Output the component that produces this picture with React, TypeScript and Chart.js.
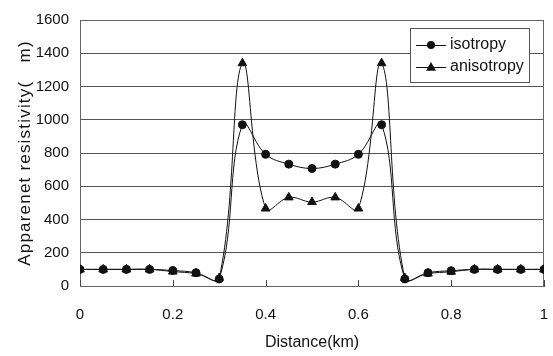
import React, { useEffect, useRef } from "react";
import { Chart, registerables } from "chart.js";

Chart.register(...registerables);

// Profile positions along the survey line (km)
const distances = [0, 0.05, 0.1, 0.15, 0.2, 0.25, 0.3, 0.35, 0.4, 0.45, 0.5, 0.55, 0.6, 0.65, 0.7, 0.75, 0.8, 0.85, 0.9, 0.95, 1];
// Apparent resistivity for the isotropic model
const isotropy = [100, 100, 100, 100, 93, 80, 42, 970, 792, 733, 707, 733, 792, 970, 42, 80, 92, 100, 100, 100, 100];
// Apparent resistivity for the anisotropic model
const anisotropy = [100, 100, 100, 100, 87, 75, 48, 1340, 466, 533, 505, 533, 466, 1340, 48, 75, 86, 100, 100, 100, 100];

const seriesNames = ["isotropy", "anisotropy"];
const yTitle = "Apparenet resistivity(\u3000m)";
const xTitle = "Distance(km)";

const FONT = '"Liberation Sans", Arial, sans-serif';

const frameAndTicks = {
  id: "frameAndTicks",
  beforeDatasetsDraw(chart: any) {
    const { ctx, chartArea, scales } = chart;
    ctx.save();
    ctx.strokeStyle = "#666";
    ctx.lineWidth = 1;
    ctx.strokeRect(chartArea.left + 0.5, chartArea.top + 0.5, chartArea.right - chartArea.left - 1, chartArea.bottom - chartArea.top);
    // short inward tick marks on the distance axis
    ctx.strokeStyle = "#444";
    ctx.beginPath();
    for (const t of scales.x.ticks) {
      const px = Math.round(scales.x.getPixelForValue(t.value)) + 0.5;
      ctx.moveTo(px, chartArea.bottom);
      ctx.lineTo(px, chartArea.bottom - 6);
    }
    ctx.stroke();
    ctx.restore();
  },
};

// vertical axis title, drawn with a little extra letter spacing
const yAxisTitle = {
  id: "yAxisTitle",
  afterDraw(chart: any) {
    const { ctx, chartArea } = chart;
    ctx.save();
    ctx.translate(25, (chartArea.top + chartArea.bottom) / 2);
    ctx.rotate(-Math.PI / 2);
    ctx.font = `17px ${FONT}`;
    (ctx as any).letterSpacing = "1.2px";
    ctx.fillStyle = "#111";
    ctx.textAlign = "center";
    ctx.textBaseline = "middle";
    ctx.fillText(yTitle, 0, 0);
    ctx.restore();
  },
};

const boxedLegend = {
  id: "boxedLegend",
  afterDraw(chart: any) {
    const { ctx, chartArea } = chart;
    const w = 119;
    const h = 54;
    const x0 = Math.round(chartArea.right - 15 - w);
    const y0 = Math.round(chartArea.top + 8);
    ctx.save();
    ctx.fillStyle = "#fff";
    ctx.fillRect(x0, y0, w, h);
    ctx.strokeStyle = "#555";
    ctx.lineWidth = 1;
    ctx.strokeRect(x0 + 0.5, y0 + 0.5, w, h);
    ctx.font = `16px ${FONT}`;
    ctx.textBaseline = "middle";
    ctx.textAlign = "left";
    chart.data.datasets.forEach((ds: any, i: number) => {
      const cy = y0 + 17 + i * 22;
      ctx.strokeStyle = "#111";
      ctx.lineWidth = 1;
      ctx.beginPath();
      ctx.moveTo(x0 + 6, cy + 0.5);
      ctx.lineTo(x0 + 36, cy + 0.5);
      ctx.stroke();
      ctx.fillStyle = "#111";
      ctx.beginPath();
      const mx = x0 + 21;
      if (ds.pointStyle === "triangle") {
        const r = 5;
        ctx.moveTo(mx, cy - r);
        ctx.lineTo(mx + r, cy + r * 0.75);
        ctx.lineTo(mx - r, cy + r * 0.75);
        ctx.closePath();
      } else {
        ctx.arc(mx, cy, 4, 0, Math.PI * 2);
      }
      ctx.fill();
      ctx.fillText(ds.label, x0 + 40, cy);
    });
    ctx.restore();
  },
};

export default function App() {
  const canvasRef = useRef<HTMLCanvasElement | null>(null);

  useEffect(() => {
    document.body.style.margin = "0";
    const canvas = canvasRef.current;
    if (!canvas) return;
    const chart = new Chart(canvas, {
      type: "line",
      data: {
        datasets: [
          {
            label: seriesNames[0],
            data: distances.map((d, i) => ({ x: d, y: isotropy[i] })),
            borderColor: "#111",
            backgroundColor: "#111",
            borderWidth: 1,
            pointStyle: "circle",
            pointRadius: 4,
            tension: 0.4,
          },
          {
            label: seriesNames[1],
            data: distances.map((d, i) => ({ x: d, y: anisotropy[i] })),
            borderColor: "#111",
            backgroundColor: "#111",
            borderWidth: 1,
            pointStyle: "triangle",
            pointRadius: 5,
            tension: 0.4,
          },
        ],
      },
      options: {
        responsive: false,
        animation: false,
        layout: { padding: { top: 16, right: 9, left: 0, bottom: 0 } },
        plugins: { legend: { display: false }, tooltip: { enabled: false } },
        scales: {
          x: {
            type: "linear",
            min: 0,
            max: 1,
            ticks: {
              stepSize: 0.2,
              color: "#111",
              font: { family: FONT, size: 15 },
              padding: 2,
              maxRotation: 0,
              callback: (v: any) => String(Number(Number(v).toFixed(1))),
            },
            // invisible tick marks reserve the gap between axis and labels
            grid: { display: true, drawOnChartArea: false, drawTicks: true, tickLength: 18, tickColor: "rgba(0,0,0,0)" },
            border: { display: true, color: "#444" },
            title: { display: true, text: xTitle, color: "#111", font: { family: FONT, size: 16 }, padding: { top: 0, bottom: 4 } },
            afterFit(scale: any) {
              scale.height = 70;
            },
          },
          y: {
            min: 0,
            max: 1600,
            ticks: {
              stepSize: 200,
              color: "#111",
              font: { family: FONT, size: 15 },
              padding: 11,
              callback: (v: any) => String(v),
            },
            grid: { color: "#555", lineWidth: 1, drawTicks: false },
            border: { display: true, color: "#555" },
            title: { display: false },
            afterFit(scale: any) {
              scale.width = 80;
            },
          },
        },
      },
      plugins: [frameAndTicks, yAxisTitle, boxedLegend],
    });
    return () => chart.destroy();
  }, []);

  return (
    <div style={{ width: 553, height: 356 }}>
      <canvas ref={canvasRef} width={553} height={356} style={{ display: "block", width: 553, height: 356 }} />
    </div>
  );
}
